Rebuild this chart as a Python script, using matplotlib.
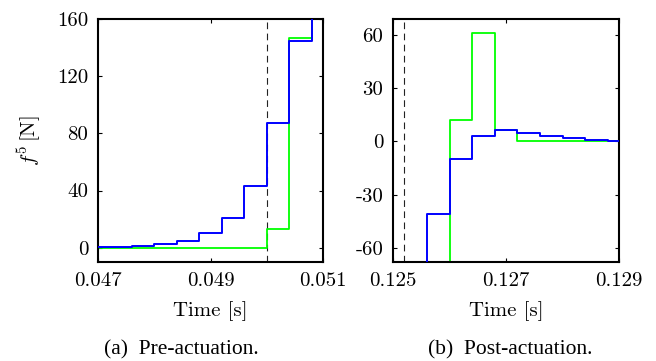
import numpy as np
import matplotlib
matplotlib.use("Agg")
import matplotlib.pyplot as plt

plt.rcParams['font.family'] = 'cmr10'
plt.rcParams['mathtext.fontset'] = 'cm'
plt.rcParams['axes.formatter.use_mathtext'] = True

# (a) pre-actuation, step samples every 0.4 ms
t_pre = [0.0468, 0.0472, 0.0476, 0.0480, 0.0484, 0.0488, 0.0492, 0.0496,
         0.0500, 0.0504, 0.0508, 0.0512]
blue_pre = [0.3, 0.6, 1.2, 2.5, 5.0, 10.0, 20.5, 43.0, 87.0, 144.5, 210.0, 210.0]
green_pre = [0.0, 0.0, 0.0, 0.0, 0.0, 0.0, 0.0, 0.0, 13.0, 147.0, 220.0, 220.0]
xticks_pre = [0.047, 0.049, 0.051]
xticklabels_pre = ['0.047', '0.049', '0.051']
yticks_pre = [0, 40, 80, 120, 160]
yticklabels_pre = ['0', '40', '80', '120', '160']
t_act_pre = 0.0500

# (b) post-actuation
t_post = [0.1252, 0.1256, 0.1260, 0.1264, 0.1268, 0.1272, 0.1276, 0.1280,
          0.1284, 0.1288, 0.1292]
blue_post = [-150.0, -41.0, -10.0, 3.2, 6.2, 4.9, 3.0, 1.7, 0.8, 0.0, 0.0]
green_post = [-150.0, -150.0, 12.0, 61.0, 6.2, 0.0, 0.0, 0.0, 0.0, 0.0, 0.0]
xticks_post = [0.125, 0.127, 0.129]
xticklabels_post = ['0.125', '0.127', '0.129']
yticks_post = [-60, -30, 0, 30, 60]
yticklabels_post = ['-60', '-30', '0', '30', '60']
t_act_post = 0.1252

W, H = 656, 361
fig = plt.figure(figsize=(W / 100, H / 100), dpi=100)

def make_ax(left, right, top, bottom):
    return fig.add_axes([left / W, 1 - bottom / H, (right - left) / W, (bottom - top) / H])

ax1 = make_ax(98, 323, 19, 262)
ax2 = make_ax(393, 619, 19, 262)

for ax, t, b, g, ta in [(ax1, t_pre, blue_pre, green_pre, t_act_pre),
                        (ax2, t_post, blue_post, green_post, t_act_post)]:
    ax.step(t, g, where='post', color=(0, 1, 0), lw=1.3, zorder=2)
    ax.step(t, b, where='post', color=(0, 0, 1), lw=1.4, zorder=3)
    ax.axvline(ta, color='#222222', lw=0.8, ls=(0, (6, 4)), zorder=1)
    for s in ax.spines.values():
        s.set_linewidth(1.5)
    ax.tick_params(direction='in', top=True, right=True, length=3, width=0.8,
                   labelsize=15, pad=7)

ax1.set_xlim(0.047, 0.051)
ax1.set_ylim(-10, 160)
ax1.set_xticks(xticks_pre)
ax1.set_xticklabels(xticklabels_pre)
ax1.set_yticks(yticks_pre)
ax1.set_yticklabels(yticklabels_pre)

ax2.set_xlim(0.125, 0.129)
ax2.set_ylim(-68, 69)
ax2.set_xticks(xticks_post)
ax2.set_xticklabels(xticklabels_post)
ax2.set_yticks(yticks_post)
ax2.set_yticklabels(yticklabels_post)

fig.text(30 / W, 1 - 141 / H, r'$f^5\,$[N]', rotation=90, ha='center', va='center', fontsize=15)
fig.text(210 / W, 1 - 311 / H, 'Time [s]', ha='center', va='center', fontsize=15)
fig.text(506 / W, 1 - 311 / H, 'Time [s]', ha='center', va='center', fontsize=15)

fig.text(181 / W, 1 - 350 / H, '(a)  Pre-actuation.', ha='center', va='center',
         fontsize=15.5, family='Liberation Serif')
fig.text(510 / W, 1 - 350 / H, '(b)  Post-actuation.', ha='center', va='center',
         fontsize=15.5, family='Liberation Serif')

fig.savefig('out.png', dpi=100)
